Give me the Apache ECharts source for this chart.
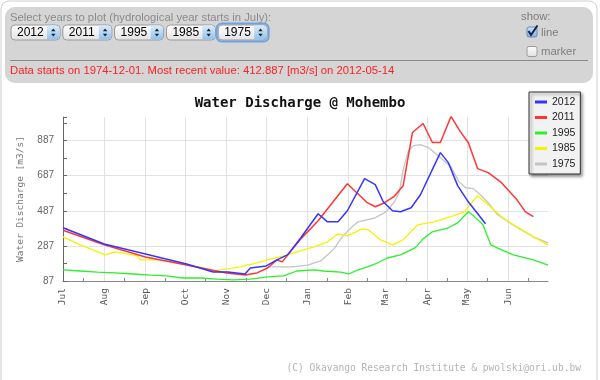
<!DOCTYPE html>
<html><head><meta charset="utf-8">
<script src="https://cdn.jsdelivr.net/npm/echarts@6/dist/echarts.min.js"></script>
<style>html,body{margin:0;padding:0;background:#fff}#c{width:600px;height:380px}</style>
</head><body><div id="c"></div>
<script>
// ---- data (x = day of hydrological year, 0 = 1 July) ----
const monthStart = [0, 31, 62, 92, 123, 153, 184, 215, 243, 274, 304, 335];
const monthNames = ['Jul','Aug','Sep','Oct','Nov','Dec','Jan','Feb','Mar','Apr','May','Jun'];
const midMonth = [15, 46, 77, 107, 138, 168, 199, 229, 258, 289, 319, 350];
const seriesNames = ['2012', '2011', '1995', '1985', '1975'];
const selYears = ['2012', '2011', '1995', '1985', '1975'];
const titleText = 'Water Discharge @ Mohembo';
const yName = 'Water Discharge [m3/s]';
const infoText = 'Data starts on 1974-12-01. Most recent value: 412.887 [m3/s] on 2012-05-14';
const footerText = '(C) Okavango Research Institute & pwolski@ori.ub.bw';

const s2012 = [[0,390],[31,298],[62,241],[93,184],[113,138],[124,138],[137,127],[141,161],[153,173],[161,207],[169,236],[179,333],[192,470],[199,424],[207,424],[214,487],[227,670],[235,636],[241,538],[248,487],[254,481],[262,504],[269,578],[284,818],[290,761],[297,630],[305,538],[318,413]];
const s2011 = [[0,376],[31,293],[62,224],[93,178],[123,133],[137,121],[146,133],[154,161],[161,207],[165,196],[179,327],[192,430],[214,641],[229,533],[235,510],[242,533],[249,567],[256,630],[263,933],[271,984],[278,876],[284,876],[292,1024],[299,938],[305,876],[312,727],[320,704],[330,647],[341,556],[348,481],[354,453]];
const s1995 = [[0,150],[13,144],[26,138],[39,133],[53,127],[66,121],[78,116],[90,104],[103,104],[116,98],[128,93],[141,98],[154,110],[166,116],[176,144],[189,150],[196,144],[209,138],[215,127],[222,150],[229,167],[235,184],[244,218],[254,236],[265,276],[271,327],[278,367],[290,390],[297,418],[305,481],[309,458],[316,407],[322,293],[330,264],[339,236],[354,207],[365,178]];
const s1985 = [[0,338],[13,293],[26,253],[32,236],[39,253],[48,241],[56,230],[58,207],[71,207],[83,196],[94,178],[103,167],[113,144],[124,156],[133,167],[143,184],[154,207],[166,230],[176,253],[189,281],[199,310],[207,356],[214,344],[225,384],[230,378],[239,321],[248,293],[256,321],[267,407],[279,424],[292,453],[302,481],[312,573],[320,521],[330,453],[339,407],[354,338],[365,293]];
const s1975 = [[154,167],[173,167],[184,178],[194,201],[204,270],[210,338],[216,384],[222,424],[235,447],[243,481],[249,533],[253,590],[256,721],[260,830],[264,858],[269,864],[275,847],[283,796],[292,738],[298,653],[303,618],[309,613],[314,578],[320,533],[327,464],[335,424],[345,378],[354,338],[365,304]];

const dataByName = {'2012': s2012, '2011': s2011, '1995': s1995, '1985': s1985, '1975': s1975};
const colors = {'2012': '#3535ff', '2011': '#ff3535', '1995': '#2cf02c', '1985': '#f4f400', '1975': '#c4c4c4'};
const widths = {'2012': 1.5, '2011': 1.5, '1995': 1.3, '1985': 1.3, '1975': 1.3};

const chart = echarts.init(document.getElementById('c'), null, {renderer: 'canvas'});
const sans = 'Liberation Sans, Arial, sans-serif';
const mono = 'DejaVu Sans Mono, monospace';
const hdrFont = '11.3px ' + sans;

// header graphics (control panel)
const g = [];
g.push({type: 'rect', shape: {x: 1, y: 1, width: 596, height: 420, r: 8}, style: {fill: null, stroke: '#cfcfcf', lineWidth: 1}, silent: true});
g.push({type: 'rect', shape: {x: 5, y: 7, width: 588, height: 76, r: 10}, style: {fill: '#d5d5d5'}, silent: true});
g.push({type: 'text', x: 10, y: 18, style: {text: 'Select years to plot (hydrological year starts in July):', fill: '#8a8a8a', font: hdrFont, verticalAlign: 'middle'}});
selYears.forEach((yr, i) => {
  const x = 11 + i * 51.8, y = 25, w = 49, h = 15;
  if (i === selYears.length - 1) {
    g.push({type: 'rect', shape: {x: x - 1.5, y: y - 1.5, width: w + 3, height: h + 3, r: 5}, style: {fill: null, stroke: '#6aa3e8', lineWidth: 2}});
  }
  g.push({type: 'rect', shape: {x: x, y: y, width: w, height: h, r: 4}, style: {fill: {type: 'linear', x: 0, y: 0, x2: 0, y2: 1, colorStops: [{offset: 0, color: '#ffffff'}, {offset: 1, color: '#e2e2e2'}]}, stroke: '#9a9a9a', lineWidth: 1}});
  g.push({type: 'rect', shape: {x: x + 36, y: y + 0.5, width: 12.5, height: h - 1, r: [0, 3.5, 3.5, 0]}, style: {fill: {type: 'linear', x: 0, y: 0, x2: 0, y2: 1, colorStops: [{offset: 0, color: '#d9ecfd'}, {offset: 1, color: '#8fc2ef'}]}}});
  const cx = x + 42.3;
  g.push({type: 'polygon', shape: {points: [[cx - 2.2, y + 6.2], [cx + 2.2, y + 6.2], [cx, y + 3.4]]}, style: {fill: '#222'}});
  g.push({type: 'polygon', shape: {points: [[cx - 2.2, y + 8.8], [cx + 2.2, y + 8.8], [cx, y + 11.6]]}, style: {fill: '#222'}});
  g.push({type: 'text', x: x + 6, y: y + h / 2 + 0.5, style: {text: yr, fill: '#000', font: '12px ' + sans, verticalAlign: 'middle'}});
});
g.push({type: 'line', shape: {x1: 10, y1: 60.5, x2: 588, y2: 60.5}, style: {stroke: '#8a8a8a', lineWidth: 1}});
g.push({type: 'text', x: 10, y: 71, style: {text: infoText, fill: '#ff1f1f', font: hdrFont, verticalAlign: 'middle'}});
g.push({type: 'text', x: 521, y: 17, style: {text: 'show:', fill: '#7d7d7d', font: hdrFont, verticalAlign: 'middle'}});
g.push({type: 'rect', shape: {x: 527, y: 27, width: 10, height: 10, r: 2}, style: {fill: {type: 'linear', x: 0, y: 0, x2: 0, y2: 1, colorStops: [{offset: 0, color: '#cfe5fb'}, {offset: 1, color: '#7fb4ea'}]}, stroke: '#6d8db3', lineWidth: 1}});
g.push({type: 'polyline', shape: {points: [[528.5, 31], [531, 35], [537.5, 25.5]]}, style: {stroke: '#15224d', lineWidth: 2, fill: null}});
g.push({type: 'text', x: 541, y: 33, style: {text: 'line', fill: '#7d7d7d', font: hdrFont, verticalAlign: 'middle'}});
g.push({type: 'rect', shape: {x: 527, y: 46.5, width: 10, height: 10, r: 2}, style: {fill: {type: 'linear', x: 0, y: 0, x2: 0, y2: 1, colorStops: [{offset: 0, color: '#ffffff'}, {offset: 1, color: '#e0e0e0'}]}, stroke: '#9a9a9a', lineWidth: 1}});
g.push({type: 'text', x: 541, y: 52, style: {text: 'marker', fill: '#7d7d7d', font: hdrFont, verticalAlign: 'middle'}});
g.push({type: 'text', x: 581, y: 368, style: {text: footerText, fill: '#b4b4b4', font: '9.6px ' + mono, align: 'right', verticalAlign: 'middle'}});

const series = seriesNames.slice().reverse().map(n => ({
  name: n, type: 'line', data: dataByName[n], showSymbol: false, symbol: 'none',
  lineStyle: {color: colors[n], width: widths[n]}, itemStyle: {color: colors[n]}, z: 3
}));

chart.setOption({
  animation: false,
  backgroundColor: '#fff',
  title: {text: titleText, left: 'center', top: 91, textStyle: {fontFamily: mono, fontSize: 14, fontWeight: 'bold', color: '#111'}},
  legend: {
    data: seriesNames, orient: 'vertical', left: 529, top: 92, padding: [4, 5, 4, 6], itemGap: 3.5,
    itemWidth: 12, itemHeight: 3, icon: 'rect',
    backgroundColor: '#f2f2f2', borderColor: '#333', borderWidth: 1,
    shadowColor: 'rgba(0,0,0,0.45)', shadowBlur: 3, shadowOffsetX: 2, shadowOffsetY: 2,
    textStyle: {fontFamily: sans, fontSize: 10.5, color: '#222', lineHeight: 12}
  },
  grid: {left: 63, right: 52, top: 117, bottom: 99},
  xAxis: [{
    type: 'value', min: 0, max: 365,
    axisLine: {lineStyle: {color: '#888'}},
    axisTick: {show: false, customValues: monthStart},
    axisLabel: {customValues: monthStart, rotate: 90, margin: 7, color: '#555', fontFamily: mono, fontSize: 9.5,
      formatter: v => monthNames[monthStart.indexOf(v)] || ''},
    splitLine: {show: true, lineStyle: {color: '#e2e2e2'}}
  }, {
    type: 'value', min: 0, max: 365, position: 'bottom',
    axisLine: {show: false}, axisLabel: {show: false}, splitLine: {show: false},
    axisTick: {show: true, inside: true, length: 3, customValues: midMonth, lineStyle: {color: '#888'}}
  }],
  yAxis: [{
    type: 'value', min: 87, max: 1021, interval: 100,
    name: yName, nameLocation: 'middle', nameGap: 37, nameRotate: 90,
    nameTextStyle: {fontFamily: mono, fontSize: 9.5, color: '#777'},
    axisLine: {show: true, lineStyle: {color: '#666'}},
    axisTick: {show: true, inside: true, length: 4, lineStyle: {color: '#666'}},
    axisLabel: {margin: 9, color: '#666', fontFamily: sans, fontSize: 10,
      formatter: v => ((v - 87) % 200 === 0 && v <= 887) ? String(v) : ''},
    splitLine: {show: false}
  }, {
    type: 'value', min: 87, max: 1021, interval: 200, position: 'left',
    axisLine: {show: false}, axisTick: {show: false}, axisLabel: {show: false},
    splitLine: {show: true, showMinLine: false, showMaxLine: false, lineStyle: {color: '#e2e2e2'}}
  }],
  graphic: {elements: g},
  series: series
});
</script></body></html>
